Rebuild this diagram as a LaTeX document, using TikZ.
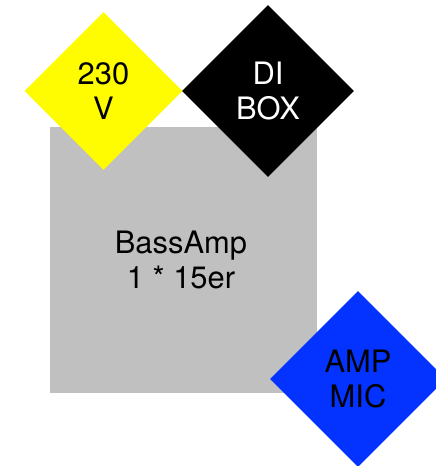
\documentclass[tikz,border=0pt]{standalone}
\usepackage{fontspec}
\setmainfont{TeX Gyre Heros}
\usetikzlibrary{shapes.geometric}
\definecolor{ampgray}{RGB}{192,192,192}
\definecolor{mainsyellow}{RGB}{255,251,0}
\definecolor{micblue}{RGB}{4,51,255}
\tikzset{
  box/.style={diamond, aspect=1, inner sep=0pt, align=center,
    font=\fontsize{31}{36}\selectfont},
}

\begin{document}
\begin{tikzpicture}[x=1bp, y=-1bp]
			%%%%% START %%%%%
			\useasboundingbox (0, 0) rectangle (436, 466);
			\clip (0, 0) rectangle (436, 466);
			
			\fill[ampgray] (50, 127) rectangle (317, 393);
			\node[align=center, font=\fontsize{31}{35}\selectfont] (amp) at (181, 260) {BassAmp\\1 * 15er};
			
			\node[box, fill=mainsyellow, minimum size=158bp] (mains) at (103.5, 91) {230\\V};
			\node[box, fill=black, text=white, minimum size=172bp] (dibox) at (268, 91) {DI\\BOX};
			\node[box, fill=micblue, minimum size=176bp] (mic) at (358, 379) {AMP\\MIC};
			%%%%% END %%%%%
\end{tikzpicture}
\end{document}
